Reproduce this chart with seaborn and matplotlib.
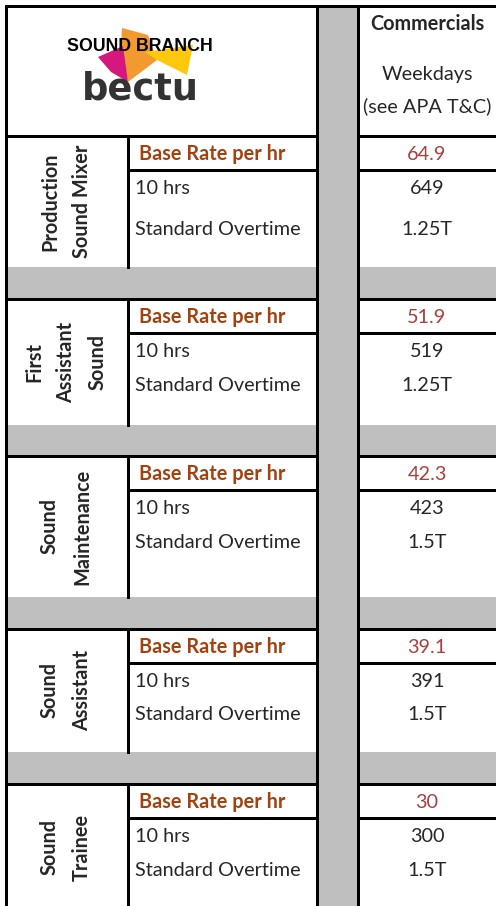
import matplotlib.pyplot as plt
import seaborn as sns
from matplotlib.patches import Rectangle, Polygon

# Rate card content
roles = [["Production", "Sound Mixer"],
         ["First", "Assistant", "Sound"],
         ["Sound", "Maintenance"],
         ["Sound", "Assistant"],
         ["Sound", "Trainee"]]
base_rates = [64.9, 51.9, 42.3, 39.1, 30]
day_rates = [649, 519, 423, 391, 300]
overtime = ["1.25T", "1.25T", "1.5T", "1.5T", "1.5T"]
row_labels = ["Base Rate per hr", "10 hrs", "Standard Overtime"]
header_lines = ["Commercials", "Weekdays", "(see APA T&C)"]

# Sheet geometry in pixels
W, H = 496, 906
X_LEFT, X_DIV, X_G0, X_G1 = 5.5, 128, 316.5, 357.5
X_VAL = 427
TOP, HEAD_BOTTOM = 6, 136
BASE_H = 34
REST_H = [97, 92, 107, 89, 92]
GRAY_H = [32, 31, 32, 32]
OT_OFFSET = [65, 58, 58, 57, 58]

GRAY = "#bfbfbf"
LABEL_RED = "#a3410f"
VALUE_RED = "#a8403f"
LW = 3 * 72 / 100
FONT = "Lato"
FS = 14.3

sns.set_theme(style="white", rc={"axes.facecolor": "white", "figure.facecolor": "white"})
plt.rcParams["font.family"] = [FONT, "DejaVu Sans"]

fig = plt.figure(figsize=(W / 100, H / 100), dpi=100)
ax = fig.add_axes([0, 0, 1, 1])
ax.set_xlim(0, W)
ax.set_ylim(H, 0)
ax.axis("off")


def hline(y, x0, x1):
    ax.plot([x0, x1], [y, y], color="black", lw=LW, solid_capstyle="projecting", zorder=5)


def vline(x, y0, y1):
    ax.plot([x, x], [y0, y1], color="black", lw=LW, solid_capstyle="projecting", zorder=5)


def draw_logo(cx):
    # Folded ribbon behind the branch name
    ax.add_patch(Polygon([(122, 28), (148, 35), (157, 60), (128, 82), (121, 47)],
                         closed=True, color="#f29a2e", lw=0, zorder=2))
    ax.add_patch(Polygon([(98, 57), (123, 46), (128, 82), (111, 72)],
                         closed=True, color="#d6177e", lw=0, zorder=2))
    ax.add_patch(Polygon([(145, 52), (193, 45), (187, 75), (157, 60)],
                         closed=True, color="#ffc80f", lw=0, zorder=2))
    ax.text(cx, 51, "SOUND BRANCH", ha="center", va="baseline", fontsize=12.8,
            fontweight="bold", family="Liberation Sans", color="black", zorder=3)
    ax.text(cx, 100, "bectu", ha="center", va="baseline", fontsize=26.5,
            fontweight="bold", family="DejaVu Sans", color="#333333", zorder=3)


# Gray spacer column
ax.add_patch(Rectangle((X_G0, TOP), X_G1 - X_G0, H - TOP, color=GRAY, lw=0, zorder=1))

# Header
hline(TOP, X_LEFT, W)
draw_logo(140)
ax.text(X_VAL, 30, header_lines[0], ha="center", va="baseline", fontsize=FS, fontweight="bold")
ax.text(X_VAL, 80, header_lines[1], ha="center", va="baseline", fontsize=FS)
ax.text(X_VAL, 112, header_lines[2], ha="center", va="baseline", fontsize=FS)

# One block per role
y = HEAD_BOTTOM
for i, role in enumerate(roles):
    top = y
    base_bottom = top + BASE_H
    gray_top = base_bottom + REST_H[i]

    hline(top, X_LEFT, X_G0)
    hline(top, X_G1, W)
    hline(base_bottom, X_DIV, X_G0)
    hline(base_bottom, X_G1, W)
    vline(X_DIV, top, gray_top)

    # Role name, rotated and centred in its merged cell
    mid = (top + gray_top) / 2
    n = len(role)
    for k, line in enumerate(role):
        ax.text(66 + (k - (n - 1) / 2) * 32, mid, line, rotation=90, ha="center", va="center",
                fontsize=FS, fontweight="bold", zorder=6)

    ax.text(139, top + 24, row_labels[0], ha="left", va="baseline", fontsize=FS,
            fontweight="bold", color=LABEL_RED)
    ax.text(135, base_bottom + 24, row_labels[1], ha="left", va="baseline", fontsize=FS)
    ax.text(135, base_bottom + OT_OFFSET[i], row_labels[2], ha="left", va="baseline", fontsize=FS)

    ax.text(X_VAL, top + 24, f"{base_rates[i]:g}", ha="center", va="baseline", fontsize=FS,
            color=VALUE_RED)
    ax.text(X_VAL, base_bottom + 24, f"{day_rates[i]:g}", ha="center", va="baseline", fontsize=FS)
    ax.text(X_VAL, base_bottom + OT_OFFSET[i], overtime[i], ha="center", va="baseline", fontsize=FS)

    y = gray_top
    if i < len(GRAY_H):
        ax.add_patch(Rectangle((X_LEFT, y), W - X_LEFT, GRAY_H[i], color=GRAY, lw=0, zorder=1))
        y += GRAY_H[i]

# Full-height borders
vline(X_LEFT, TOP, H + 2)
vline(X_G0, TOP, H + 2)
vline(X_G1, TOP, H + 2)

fig.savefig("out.png", dpi=100)
